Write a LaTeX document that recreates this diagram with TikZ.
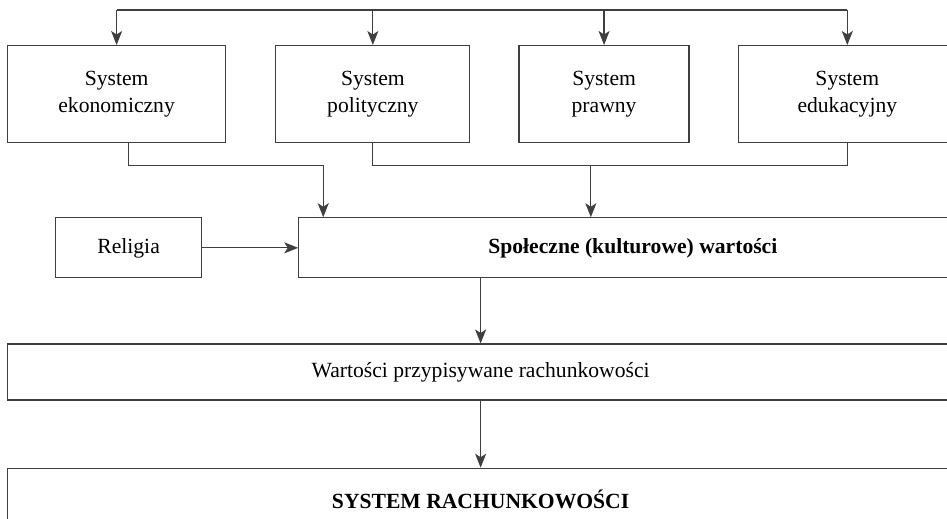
\documentclass[tikz,border=0pt]{standalone}
\usepackage{fontspec}
\setmainfont{Liberation Serif}
\usetikzlibrary{arrows.meta, positioning}
\definecolor{frame}{HTML}{3F3F3F}

\begin{document}
\begin{tikzpicture}[
  node distance=0.5cm,
  box/.style={draw=frame, line width=0.7pt, minimum height=1.94cm, align=center,
              font=\fontsize{12.3}{15.4}\selectfont, inner sep=2pt},
  wide/.style={box, minimum height=1.2cm},
  line/.style={draw=frame, line width=0.7pt},
  arr/.style={line, -{Stealth[length=0.28cm, width=0.22cm, inset=0.07cm]}}
]
  \useasboundingbox (0,0) rectangle (18.94,-10.36);

  % Top row: systems
  \node[box, minimum width=4.36cm, anchor=north west] (eko) at (0.14,-0.9)
    {System\\ekonomiczny};
  \node[box, minimum width=3.88cm, right=0.98cm of eko] (pol) {System\\polityczny};
  \node[box, minimum width=3.4cm, right=0.96cm of pol] (praw) {System\\prawny};
  \node[box, minimum width=4.36cm, right=0.96cm of praw] (edu) {System\\edukacyjny};

  % Values
  \node[wide, minimum width=2.92cm, below=1.48cm of eko.south west,
        anchor=north west, xshift=0.96cm] (rel) {Religia};
  \node[wide, minimum width=13.36cm, right=1.92cm of rel]
    (spol) {\textbf{Społeczne (kulturowe) wartości}};

  \node[wide, minimum width=18.92cm, minimum height=1.12cm, below=1.3cm of rel.south west,
        anchor=north west, xshift=-0.96cm] (wart) {Wartości przypisywane rachunkowości};

  \node[wide, minimum width=18.92cm, minimum height=1.24cm, below=1.34cm of wart]
    (sys) {\textbf{SYSTEM RACHUNKOWOŚCI}};

  % Arrows -- top line to systems
  \coordinate[above=0.7cm of eko.north] (topline);
  \draw[line] (topline) -- (topline -| edu.north);
  \draw[arr] (topline -| eko.north) -- (eko.north);
  \draw[arr] (topline -| pol.north) -- (pol.north);
  \draw[arr] (topline -| praw.north) -- (praw.north);
  \draw[arr] (topline -| edu.north) -- (edu.north);

  % Systems to values
  \coordinate[below=0.44cm of pol.south] (midline);
  \coordinate (in1) at ([xshift=0.5cm]spol.north west);
  \coordinate (in2) at ([xshift=-0.84cm]spol.north);
  \draw[arr] ([xshift=0.24cm]eko.south) |- (midline -| in1) -- (in1);
  \draw[line] (pol.south) |- (midline -| edu.south) -- (edu.south);
  \draw[arr] (midline -| in2) -- (in2);
  \draw[arr] (rel.east) -- (spol.west);

  % Values to accounting
  \draw[arr] (spol.south -| wart.north) -- (wart.north);
  \draw[arr] (wart.south) -- (sys.north);
\end{tikzpicture}
\end{document}
